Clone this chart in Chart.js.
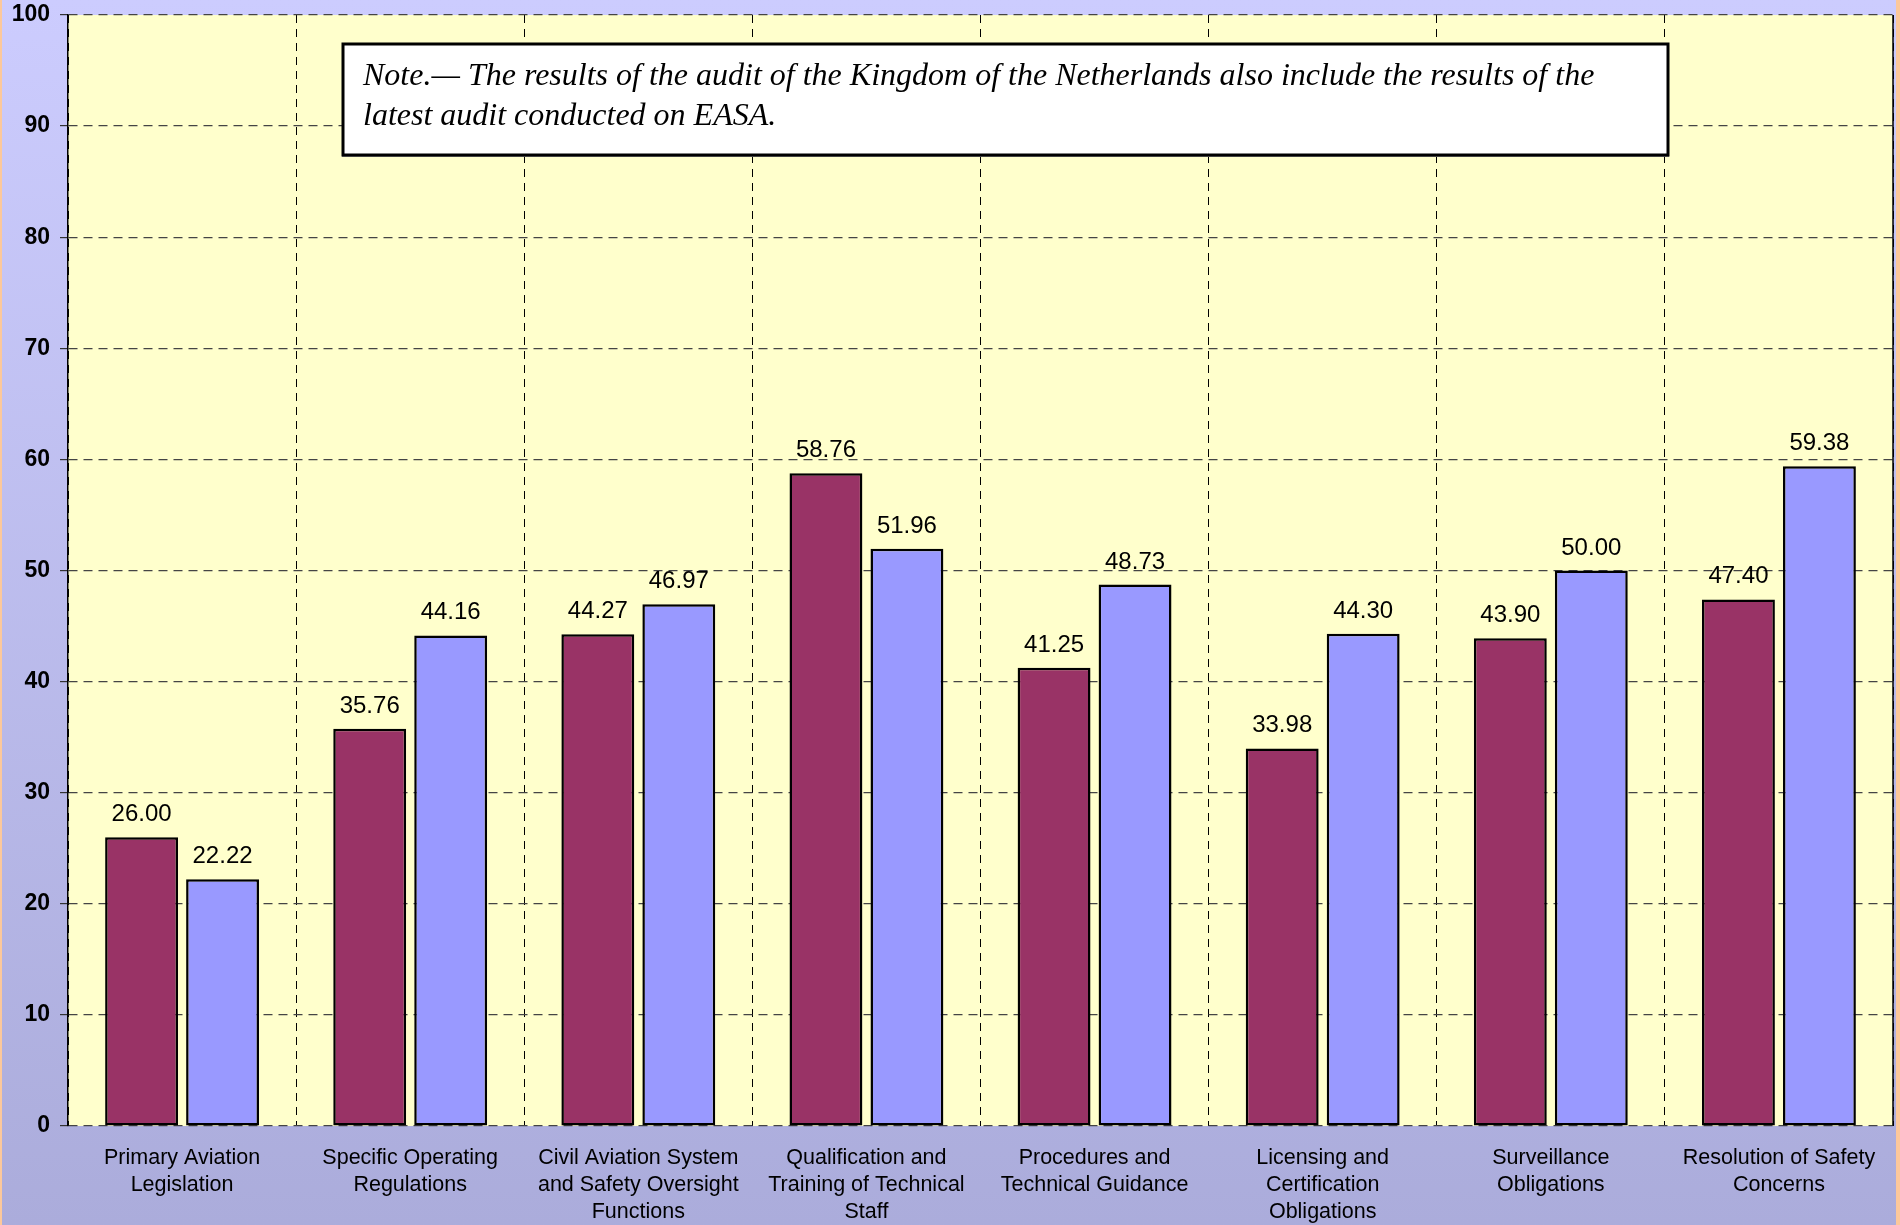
<!DOCTYPE html>
<html>
<head>
<meta charset="utf-8">
<script src="https://cdn.jsdelivr.net/npm/chart.js@4.4.1/dist/chart.umd.min.js"></script>
<style>
  html, body { margin: 0; padding: 0; background: #fcc89b; }
  canvas { display: block; }
</style>
</head>
<body>
<canvas id="auditChart" width="1900" height="1225"></canvas>
<script>
// audit areas, one per group of bars
const categories = [
  ["Primary Aviation", "Legislation"],
  ["Specific Operating", "Regulations"],
  ["Civil Aviation System", "and Safety Oversight", "Functions"],
  ["Qualification and", "Training of Technical", "Staff"],
  ["Procedures and", "Technical Guidance"],
  ["Licensing and", "Certification", "Obligations"],
  ["Surveillance", "Obligations"],
  ["Resolution of Safety", "Concerns"],
];

const seriesA = [26.0, 35.76, 44.27, 58.76, 41.25, 33.98, 43.9, 47.4];
const seriesB = [22.22, 44.16, 46.97, 51.96, 48.73, 44.3, 50.0, 59.38];

const yMin = 0;
const yMax = 100;
const yStep = 10;

const noteLines = [
  "Note.\u2014 The results of the audit of the Kingdom of the Netherlands also include the results of the",
  "latest audit conducted on EASA.",
];

const sansFont = "'Liberation Sans', Arial, Helvetica, sans-serif";

// page background, plot background
const backgroundPlugin = {
  id: "backgroundPlugin",
  beforeDraw(chart) {
    const { ctx, width, height, chartArea } = chart;
    ctx.save();
    ctx.fillStyle = "#fcc89b";
    ctx.fillRect(0, 0, width, height);
    const grad = ctx.createLinearGradient(0, 0, 0, height);
    grad.addColorStop(0, "#ccccfe");
    grad.addColorStop(1, "#abacdb");
    ctx.fillStyle = grad;
    ctx.fillRect(2, 0, 1894, height);
    ctx.fillStyle = "#ffffcc";
    ctx.fillRect(
      chartArea.left,
      chartArea.top,
      chartArea.right - chartArea.left,
      chartArea.bottom - chartArea.top
    );
    ctx.restore();
  },
};

// value labels above bars, right border, note box
const overlayPlugin = {
  id: "overlayPlugin",
  afterDatasetsDraw(chart) {
    const { ctx, chartArea } = chart;
    ctx.save();
    ctx.font = "24px " + sansFont;
    ctx.fillStyle = "#000";
    ctx.textAlign = "center";
    ctx.textBaseline = "alphabetic";
    chart.data.datasets.forEach((ds, i) => {
      const meta = chart.getDatasetMeta(i);
      meta.data.forEach((bar, j) => {
        ctx.fillText(ds.data[j].toFixed(2), bar.x, bar.y - 16);
      });
    });

    ctx.strokeStyle = "#000";
    ctx.lineWidth = 1.5;
    ctx.beginPath();
    ctx.moveTo(chartArea.right, chartArea.top);
    ctx.lineTo(chartArea.right, chartArea.bottom);
    ctx.stroke();
    ctx.restore();
  },
  afterDraw(chart) {
    const { ctx } = chart;
    const x = 343, y = 44, w = 1325, h = 111;
    ctx.save();
    ctx.fillStyle = "#888";
    ctx.fillRect(x - 1, y + 2, w + 2, h);
    ctx.fillStyle = "#fff";
    ctx.fillRect(x, y, w, h);
    ctx.strokeStyle = "#000";
    ctx.lineWidth = 3;
    ctx.strokeRect(x, y, w, h);
    ctx.fillStyle = "#000";
    ctx.font = "italic 32px 'Liberation Serif', 'Times New Roman', serif";
    ctx.textAlign = "left";
    ctx.textBaseline = "alphabetic";
    noteLines.forEach((line, i) => {
      ctx.fillText(line, 363, 85 + i * 40);
    });
    ctx.restore();
  },
};

const data = {
  labels: categories,
  datasets: [
    {
      label: "Series A",
      data: seriesA,
      backgroundColor: "#993366",
      borderColor: "#000",
      borderWidth: 2.5,
      borderSkipped: false,
      categoryPercentage: 0.71,
      barPercentage: 0.9,
    },
    {
      label: "Series B",
      data: seriesB,
      backgroundColor: "#9999ff",
      borderColor: "#000",
      borderWidth: 2.5,
      borderSkipped: false,
      categoryPercentage: 0.71,
      barPercentage: 0.9,
    },
  ],
};

const config = {
  type: "bar",
  data: data,
  options: {
    responsive: false,
    animation: false,
    layout: {
      padding: { left: 2, right: 7, top: 15, bottom: 0 },
    },
    plugins: {
      legend: { display: false },
      tooltip: { enabled: false },
    },
    scales: {
      x: {
        offset: true,
        grid: {
          offset: true,
          color: "#000",
          lineWidth: 1,
          drawTicks: false,
        },
        border: { display: false, dash: [8, 6] },
        ticks: {
          color: "#000",
          font: { family: sansFont, size: 21.5, lineHeight: 1.27 },
          padding: 18,
          maxRotation: 0,
          autoSkip: false,
        },
        afterFit(scale) {
          scale.height = 99;
          scale.paddingLeft = 0;
          scale.paddingRight = 0;
        },
      },
      y: {
        min: yMin,
        max: yMax,
        grid: {
          color: "#444",
          lineWidth: 1.2,
          tickLength: 8,
          tickColor: "#333",
        },
        border: { display: true, color: "#000", width: 1.5, dash: [9, 6] },
        ticks: {
          stepSize: yStep,
          color: "#000",
          padding: 10,
          font: { family: sansFont, size: 23, weight: "bold" },
        },
        afterFit(scale) {
          scale.width = 66;
          scale.paddingTop = 0;
          scale.paddingBottom = 0;
        },
      },
    },
  },
  plugins: [backgroundPlugin, overlayPlugin],
};

const ctx = document.getElementById("auditChart");
new Chart(ctx, config);
</script>
</body>
</html>
